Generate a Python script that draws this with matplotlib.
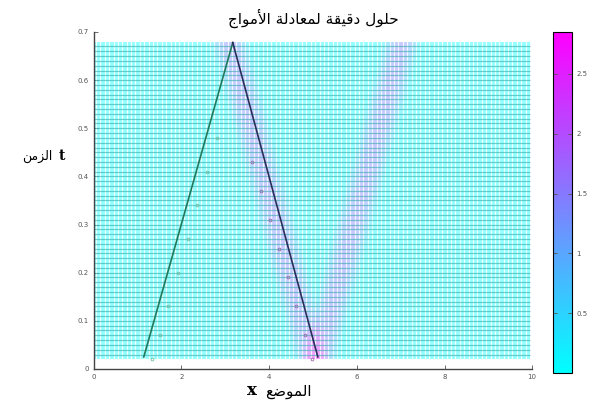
import numpy as np
import matplotlib
matplotlib.use("Agg")
import matplotlib.pyplot as plt

# Arabic text is pre-shaped (presentation forms, visual order)
TITLE = "\uFE9D\uFE8D\uFEEE\uFEE3\uFEF7\uFE8D \uFE94\uFEDF\uFEA9\uFE8E\uFECC\uFEE4\uFEDF \uFE94\uFED8\uFEF4\uFED7\uFEA9 \uFEDD\uFEEE\uFEE0\uFEA3"
XLABEL_AR = "\uFECA\uFEBF\uFEEE\uFEE4\uFEDF\uFE8D"
YLABEL_AR = "\uFEE6\uFEE3\uFEB0\uFEDF\uFE8D"

# grid of the solution
x_start, x_stop, dx = 0.0, 9.9, 0.1
t_start, t_stop, dt = 0.025, 0.68, 0.01

# pulse parameters (d'Alembert: two halves moving apart)
pulse_center = 5.05
pulse_speed = 2.9
pulse_halfwidth = 0.45
pulse_amp = 1.43

# characteristic lines
green_x = [1.14, 3.17]
green_t = [0.025, 0.678]
black_x = [3.17, 5.11]
black_t = [0.678, 0.025]

# numerical points drawn along the characteristics
green_pts_x = [1.32, 1.50, 1.70, 1.92, 2.14, 2.36, 2.58, 2.80]
green_pts_t = [0.02, 0.07, 0.13, 0.20, 0.27, 0.34, 0.41, 0.48]
black_pts_x = [4.98, 4.82, 4.62, 4.42, 4.22, 4.02, 3.82, 3.62]
black_pts_t = [0.02, 0.07, 0.13, 0.19, 0.25, 0.31, 0.37, 0.43]

x_ticks = [0, 2, 4, 6, 8, 10]
t_ticks = [0, 0.1, 0.2, 0.3, 0.4, 0.5, 0.6, 0.7]
cb_ticks = [0.5, 1, 1.5, 2, 2.5]
cb_max = 2.85


def bump(s):
    return np.where(np.abs(s) < pulse_halfwidth,
                    np.cos(np.pi * s / (2 * pulse_halfwidth)) ** 1.2, 0.0)


xs = np.arange(x_start, x_stop + 1e-9, dx)
ts = np.arange(t_start, t_stop + 1e-9, dt)
X, T = np.meshgrid(xs, ts)
U = pulse_amp * (bump(X - pulse_center + pulse_speed * T)
                 + bump(X - pulse_center - pulse_speed * T))

fig = plt.figure(figsize=(5.9, 4.05), dpi=100)
ax = fig.add_axes([0.159, 0.089, 0.743, 0.832])
cax = fig.add_axes([0.937, 0.079, 0.032, 0.842])

mesh = ax.pcolormesh(X, T, U, cmap="cool", vmin=0, vmax=cb_max,
                     shading="nearest", alpha=0.42, linewidth=0)
# mesh lines
ax.vlines(xs[:-1] + dx / 2, t_start - dt / 2, t_stop + dt / 2,
          colors="white", linewidth=0.9, alpha=0.85)
ax.hlines(ts[:-1] + dt / 2, x_start - dx / 2, x_stop + dx / 2,
          colors="#35a9a9", linewidth=0.9, alpha=0.6)

ax.plot(green_x, green_t, color="#1f7a5c", linewidth=1.2)
ax.plot(black_x, black_t, color="#2b2d5a", linewidth=1.2)
ax.plot(green_pts_x, green_pts_t, linestyle="none", marker="o", markersize=2,
        markerfacecolor="none", markeredgecolor="#6fbf9f", markeredgewidth=0.6)
ax.plot(black_pts_x, black_pts_t, linestyle="none", marker="o", markersize=2,
        markerfacecolor="none", markeredgecolor="#9a6aa8", markeredgewidth=0.6)

ax.set_xlim(0, 10)
ax.set_ylim(0, 0.7)
ax.set_xticks(x_ticks)
ax.set_xticklabels([str(v) for v in x_ticks])
ax.set_yticks(t_ticks)
ax.set_yticklabels([f"{v:g}" for v in t_ticks])
ax.tick_params(direction="in", length=3, labelsize=5, colors="#555555",
               width=0.6)
for side in ["top", "right"]:
    ax.spines[side].set_visible(False)
for side in ["left", "bottom"]:
    ax.spines[side].set_linewidth(1.0)
    ax.spines[side].set_color("#444444")

ax.set_title(TITLE, fontsize=11, family="DejaVu Sans", pad=6)

# axis labels: Arabic word plus a bold serif variable name
fig.text(0.427, 0.024, "x", fontsize=12, ha="center",
         family="DejaVu Serif", fontweight="bold")
fig.text(0.488, 0.022, XLABEL_AR, fontsize=11, ha="center",
         family="DejaVu Sans")
fig.text(0.063, 0.605, YLABEL_AR, fontsize=9, ha="center",
         family="DejaVu Sans")
fig.text(0.105, 0.605, "t", fontsize=10, ha="center",
         family="DejaVu Serif", fontweight="bold")

cb = fig.colorbar(mesh, cax=cax)
cb.solids.set_alpha(1)
cb.set_ticks(cb_ticks)
cb.set_ticklabels([f"{v:g}" for v in cb_ticks])
cax.tick_params(direction="in", length=3, labelsize=5, colors="#555555",
                width=0.6, left=True, right=True)
cb.outline.set_linewidth(0.8)

fig.savefig("out.png", dpi=100)
